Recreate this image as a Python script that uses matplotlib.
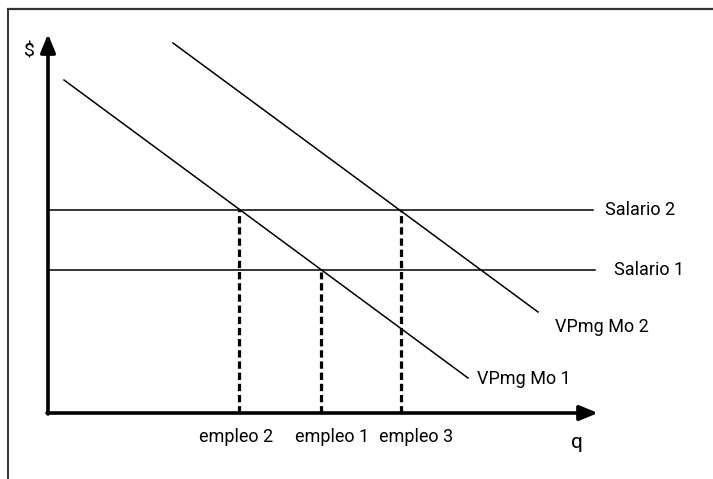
"""
Mercado de trabajo: VPmg Mo y salarios
"""
import matplotlib.pyplot as plt
from matplotlib.lines import Line2D

plt.rcParams['font.family'] = ['Roboto', 'Liberation Sans', 'DejaVu Sans']
plt.rcParams['font.stretch'] = 'condensed'

# curvas de demanda (VPmg Mo): extremos
vpmg1_x = [16, 420]
vpmg1_y = [333, 35]
vpmg2_x = [125, 490]
vpmg2_y = [370, 101]

# salarios
salario_y = [143, 203]
salario_nombres = ['Salario 1', 'Salario 2']
salario_fin = [547, 545]

# niveles de empleo
empleo_x = [273, 191, 353]
empleo_tope = [141, 203, 203]
empleo_nombres = ['empleo 1', 'empleo 2', 'empleo 3']

fig = plt.figure(figsize=(7.13, 4.79), dpi=100)
ax = fig.add_axes([0, 0, 1, 1])
ax.set_xlim(-48, 665)
ax.set_ylim(-66, 413)
ax.axis('off')

# marco
fig.add_artist(Line2D([8 / 713, 1], [1 - 9 / 479] * 2, color='#333333', lw=1.6))
fig.add_artist(Line2D([8 / 713] * 2, [0, 1 - 9 / 479], color='#333333', lw=1.4))

# ejes con flecha
ax.annotate('', xy=(550, 0), xytext=(-1, 0),
            arrowprops=dict(arrowstyle='-|>,head_length=1.1,head_width=0.45', lw=2.6, color='k',
                            shrinkA=0, shrinkB=0))
ax.annotate('', xy=(0, 379), xytext=(0, -1),
            arrowprops=dict(arrowstyle='-|>,head_length=1.1,head_width=0.45', lw=2.6, color='k',
                            shrinkA=0, shrinkB=0))

ax.plot(vpmg1_x, vpmg1_y, color='k', lw=1.1)
ax.plot(vpmg2_x, vpmg2_y, color='k', lw=1.1)

for y, fin in zip(salario_y, salario_fin):
    ax.plot([0, fin], [y, y], color='k', lw=1.1)

for x, tope in zip(empleo_x, empleo_tope):
    ax.plot([x, x], [0, tope], color='k', lw=2.3, linestyle=(0, (2.3, 1.2)))

fs = 13
ax.text(-19, 362, '$', fontsize=fs + 1, ha='center', va='center')
ax.text(529, -29, 'q', fontsize=fs + 2, ha='center', va='center')
ax.text(188, -24, empleo_nombres[1], fontsize=fs, ha='center', va='center')
ax.text(284, -24, empleo_nombres[0], fontsize=fs, ha='center', va='center')
ax.text(368, -24, empleo_nombres[2], fontsize=fs, ha='center', va='center')
ax.text(557, 203, salario_nombres[1], fontsize=fs, ha='left', va='center')
ax.text(566, 143, salario_nombres[0], fontsize=fs, ha='left', va='center')
ax.text(507, 86, 'VPmg Mo 2', fontsize=fs, ha='left', va='center')
ax.text(429, 34, 'VPmg Mo 1', fontsize=fs, ha='left', va='center')

plt.savefig('out.png', dpi=100)
